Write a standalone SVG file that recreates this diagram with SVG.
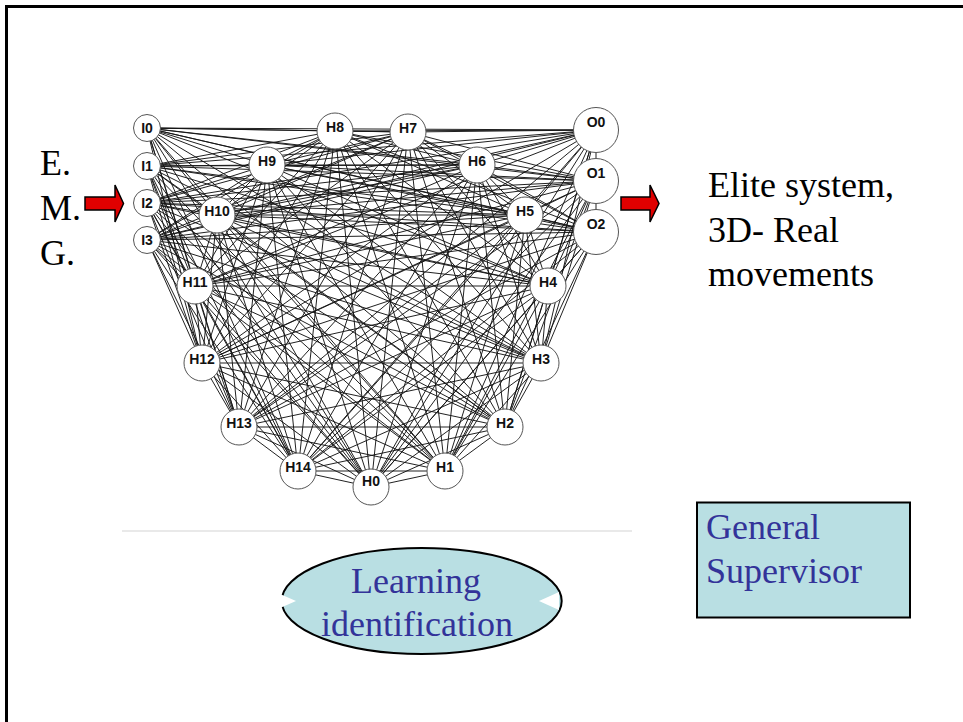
<svg xmlns="http://www.w3.org/2000/svg" width="963" height="722" viewBox="0 0 963 722">
<style>
.serif{font-family:"Liberation Serif","Times New Roman",serif;font-size:36px;fill:#000}
.blue{font-family:"Liberation Serif","Times New Roman",serif;font-size:36px;fill:#333399}
.n circle{fill:#fff;stroke:#555;stroke-width:1}
.n text{font-family:"Liberation Sans",Arial,sans-serif;font-weight:bold;font-size:14px;fill:#111;text-anchor:middle}
.edges path{fill:none;stroke:#151515;stroke-width:0.95}
.arrow{fill:#e00000;stroke:#000;stroke-width:1.5;stroke-linejoin:miter}
.panel{fill:#b9dfe3;stroke:#000;stroke-width:2}
</style>
<rect x="0" y="0" width="963" height="722" fill="#fff"/>
<rect x="6.5" y="6.5" width="1000" height="800" fill="none" stroke="#000" stroke-width="3"/>
<line x1="122" y1="531" x2="632" y2="531" stroke="#e2e2e2" stroke-width="1.5"/>
<g class="edges" id="connectors">
<path d="M147 128L371 487M147 128L445 471M147 128L505 427M147 128L541 363M147 128L548 286M147 128L525 215M147 128L477 165M147 128L408 132M147 128L335 131M147 128L267 165M147 128L217 215M147 128L195 286M147 128L202 363M147 128L239 427M147 128L298 471M147 128L596 130M147 128L596 181M147 128L596 232"/>
<path d="M147 166L371 487M147 166L445 471M147 166L505 427M147 166L541 363M147 166L548 286M147 166L525 215M147 166L477 165M147 166L408 132M147 166L335 131M147 166L267 165M147 166L217 215M147 166L195 286M147 166L202 363M147 166L239 427M147 166L298 471M147 166L596 130M147 166L596 181M147 166L596 232"/>
<path d="M147 203L371 487M147 203L445 471M147 203L505 427M147 203L541 363M147 203L548 286M147 203L525 215M147 203L477 165M147 203L408 132M147 203L335 131M147 203L267 165M147 203L217 215M147 203L195 286M147 203L202 363M147 203L239 427M147 203L298 471M147 203L596 130M147 203L596 181M147 203L596 232"/>
<path d="M147 240L371 487M147 240L445 471M147 240L505 427M147 240L541 363M147 240L548 286M147 240L525 215M147 240L477 165M147 240L408 132M147 240L335 131M147 240L267 165M147 240L217 215M147 240L195 286M147 240L202 363M147 240L239 427M147 240L298 471M147 240L596 130M147 240L596 181M147 240L596 232"/>
<path d="M371 487L445 471M371 487L505 427M371 487L541 363M371 487L548 286M371 487L525 215M371 487L477 165M371 487L408 132M371 487L335 131M371 487L267 165M371 487L217 215M371 487L195 286M371 487L202 363M371 487L239 427M371 487L298 471M371 487L596 130M371 487L596 181M371 487L596 232"/>
<path d="M445 471L505 427M445 471L541 363M445 471L548 286M445 471L525 215M445 471L477 165M445 471L408 132M445 471L335 131M445 471L267 165M445 471L217 215M445 471L195 286M445 471L202 363M445 471L239 427M445 471L298 471M445 471L596 130M445 471L596 181M445 471L596 232"/>
<path d="M505 427L541 363M505 427L548 286M505 427L525 215M505 427L477 165M505 427L408 132M505 427L335 131M505 427L267 165M505 427L217 215M505 427L195 286M505 427L202 363M505 427L239 427M505 427L298 471M505 427L596 130M505 427L596 181M505 427L596 232"/>
<path d="M541 363L548 286M541 363L525 215M541 363L477 165M541 363L408 132M541 363L335 131M541 363L267 165M541 363L217 215M541 363L195 286M541 363L202 363M541 363L239 427M541 363L298 471M541 363L596 130M541 363L596 181M541 363L596 232"/>
<path d="M548 286L525 215M548 286L477 165M548 286L408 132M548 286L335 131M548 286L267 165M548 286L217 215M548 286L195 286M548 286L202 363M548 286L239 427M548 286L298 471M548 286L596 130M548 286L596 181M548 286L596 232"/>
<path d="M525 215L477 165M525 215L408 132M525 215L335 131M525 215L267 165M525 215L217 215M525 215L195 286M525 215L202 363M525 215L239 427M525 215L298 471M525 215L596 130M525 215L596 181M525 215L596 232"/>
<path d="M477 165L408 132M477 165L335 131M477 165L267 165M477 165L217 215M477 165L195 286M477 165L202 363M477 165L239 427M477 165L298 471M477 165L596 130M477 165L596 181M477 165L596 232"/>
<path d="M408 132L335 131M408 132L267 165M408 132L217 215M408 132L195 286M408 132L202 363M408 132L239 427M408 132L298 471M408 132L596 130M408 132L596 181M408 132L596 232"/>
<path d="M335 131L267 165M335 131L217 215M335 131L195 286M335 131L202 363M335 131L239 427M335 131L298 471M335 131L596 130M335 131L596 181M335 131L596 232"/>
<path d="M267 165L217 215M267 165L195 286M267 165L202 363M267 165L239 427M267 165L298 471M267 165L596 130M267 165L596 181M267 165L596 232"/>
<path d="M217 215L195 286M217 215L202 363M217 215L239 427M217 215L298 471M217 215L596 130M217 215L596 181M217 215L596 232"/>
<path d="M195 286L202 363M195 286L239 427M195 286L298 471M195 286L596 130M195 286L596 181M195 286L596 232"/>
<path d="M202 363L239 427M202 363L298 471M202 363L596 130M202 363L596 181M202 363L596 232"/>
<path d="M239 427L298 471M239 427L596 130M239 427L596 181M239 427L596 232"/>
<path d="M298 471L596 130M298 471L596 181M298 471L596 232"/>
<path d="M596 130L596 181M596 181L596 232"/>
</g>
<g class="n" id="I0"><circle cx="147" cy="128" r="13.5"/><text x="147" y="133">I0</text></g>
<g class="n" id="I1"><circle cx="147" cy="166" r="13.5"/><text x="147" y="171">I1</text></g>
<g class="n" id="I2"><circle cx="147" cy="203" r="13.5"/><text x="147" y="208">I2</text></g>
<g class="n" id="I3"><circle cx="147" cy="240" r="13.5"/><text x="147" y="245">I3</text></g>
<g class="n" id="H8"><circle cx="335" cy="131" r="18"/><text x="335" y="132">H8</text></g>
<g class="n" id="H7"><circle cx="408" cy="132" r="18"/><text x="408" y="133">H7</text></g>
<g class="n" id="H9"><circle cx="267" cy="165" r="18"/><text x="267" y="166">H9</text></g>
<g class="n" id="H6"><circle cx="477" cy="165" r="18"/><text x="477" y="166">H6</text></g>
<g class="n" id="H10"><circle cx="217" cy="215" r="18"/><text x="217" y="216">H10</text></g>
<g class="n" id="H5"><circle cx="525" cy="215" r="18"/><text x="525" y="216">H5</text></g>
<g class="n" id="H11"><circle cx="195" cy="286" r="18"/><text x="195" y="287">H11</text></g>
<g class="n" id="H4"><circle cx="548" cy="286" r="18"/><text x="548" y="287">H4</text></g>
<g class="n" id="H12"><circle cx="202" cy="363" r="18"/><text x="202" y="364">H12</text></g>
<g class="n" id="H3"><circle cx="541" cy="363" r="18"/><text x="541" y="364">H3</text></g>
<g class="n" id="H13"><circle cx="239" cy="427" r="18"/><text x="239" y="428">H13</text></g>
<g class="n" id="H2"><circle cx="505" cy="427" r="18"/><text x="505" y="428">H2</text></g>
<g class="n" id="H14"><circle cx="298" cy="471" r="18"/><text x="298" y="472">H14</text></g>
<g class="n" id="H1"><circle cx="445" cy="471" r="18"/><text x="445" y="472">H1</text></g>
<g class="n" id="H0"><circle cx="371" cy="487" r="18"/><text x="371" y="486">H0</text></g>
<g class="n" id="O0"><circle cx="596" cy="130" r="22.5"/><text x="596" y="127">O0</text></g>
<g class="n" id="O1"><circle cx="596" cy="181" r="22.5"/><text x="596" y="178">O1</text></g>
<g class="n" id="O2"><circle cx="596" cy="232" r="22.5"/><text x="596" y="229">O2</text></g>
<g id="emg">
<text class="serif" x="40" y="175">E.</text>
<text class="serif" x="40" y="220">M.</text>
<text class="serif" x="40" y="265">G.</text>
</g>
<g id="arrow-in"><polygon class="arrow" points="85,197 115,197 115,185 123.5,203.5 115,222 115,210 85,210"/></g>
<g id="arrow-out"><polygon class="arrow" points="621,197 650,197 650,185 659,203.5 650,222 650,210 621,210"/></g>
<g id="elite">
<text class="serif" x="708" y="197">Elite system,</text>
<text class="serif" x="708" y="242">3D- Real</text>
<text class="serif" x="708" y="286">movements</text>
</g>
<g id="learning">
<ellipse class="panel" cx="421.7" cy="601" rx="140" ry="53"/>
<polygon points="280,594 296,601 280,608" fill="#fff"/>
<polygon points="559,592 539,601 559,610" fill="#fff"/>
<text class="blue" x="416" y="593" text-anchor="middle">Learning</text>
<text class="blue" x="417" y="636" text-anchor="middle">identification</text>
</g>
<g id="supervisor">
<rect class="panel" x="697" y="502.5" width="213" height="115"/>
<text class="blue" x="706" y="539">General</text>
<text class="blue" x="706" y="583">Supervisor</text>
</g>
</svg>
